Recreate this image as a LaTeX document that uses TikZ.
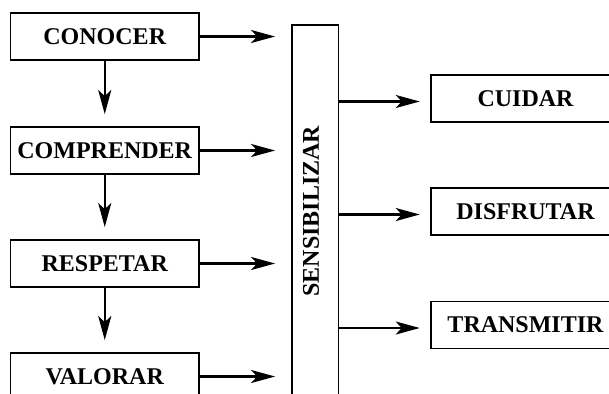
\documentclass[tikz,border=0pt]{standalone}
\usepackage{fontspec}
\setmainfont{Liberation Serif}
\usetikzlibrary{arrows.meta}
\begin{document}
\begin{tikzpicture}[x=0.5pt,y=-0.5pt,
  box/.style={draw,line width=0.9pt,minimum width=94.25pt,minimum height=23.5pt,inner sep=0pt,font=\fontsize{12}{14}\selectfont\bfseries},
  arr/.style={line width=1.2pt,-{Stealth[length=12pt,width=6.5pt,inset=3pt]}}]
\clip (0,0) rectangle (609,393);
\node[box] (conocer) at (104.75,36.5) {CONOCER};
\node[box] (comprender) at (104.75,150.5) {COMPRENDER};
\node[box] (respetar) at (104.75,263.5) {RESPETAR};
\node[box] (valorar) at (104.75,376.5) {VALORAR};
\node[draw,line width=0.9pt,minimum width=23.25pt,minimum height=186pt,inner sep=0pt] (sens) at (315.25,211) {};
\node[rotate=90,font=\fontsize{12}{14}\selectfont\bfseries] (senstext) at (311,211) {SENSIBILIZAR};
\node[box] (cuidar) at (525.5,98.5) {CUIDAR};
\node[box] (disfrutar) at (525.5,211.5) {DISFRUTAR};
\node[box] (transmitir) at (525.5,325) {TRANSMITIR};
\foreach \n in {conocer,comprender,respetar,valorar}
  \draw[arr,shorten >=8pt] (\n.east) -- (\n.east -| sens.west);
\draw[arr,shorten >=6pt] (conocer) -- (comprender);
\draw[arr,shorten >=6pt] (comprender) -- (respetar);
\draw[arr,shorten >=6pt] (respetar) -- (valorar);
\foreach \n in {cuidar,disfrutar,transmitir}
  \draw[arr,shorten >=5.3pt] ([yshift=-1.5pt]\n.west -| sens.east) -- ([yshift=-1.5pt]\n.west);
\end{tikzpicture}
\end{document}
